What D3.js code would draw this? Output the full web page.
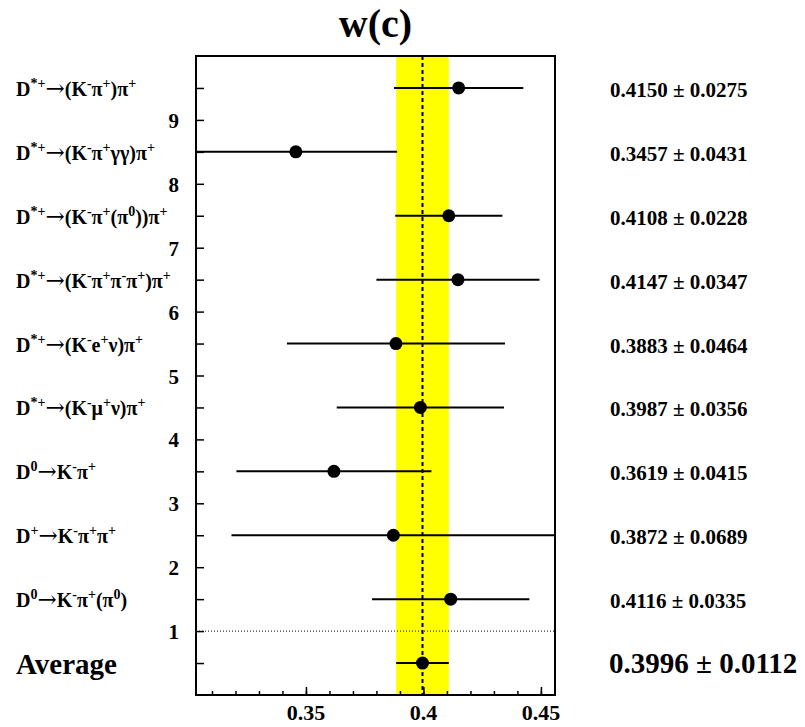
<!DOCTYPE html>
<html>
<head>
<meta charset="utf-8">
<script src="https://cdn.jsdelivr.net/npm/d3@7"></script>
<style>
  html, body { margin: 0; padding: 0; background: #fff; }
</style>
</head>
<body>
<svg id="chart" width="805" height="727"></svg>
<script>
// ---- data ----
const channels = [
  "D^{*+}→(K^{-}π^{+})π^{+}",
  "D^{*+}→(K^{-}π^{+}γγ)π^{+}",
  "D^{*+}→(K^{-}π^{+}(π^{0}))π^{+}",
  "D^{*+}→(K^{-}π^{+}π^{-}π^{+})π^{+}",
  "D^{*+}→(K^{-}e^{+}ν)π^{+}",
  "D^{*+}→(K^{-}μ^{+}ν)π^{+}",
  "D^{0}→K^{-}π^{+}",
  "D^{+}→K^{-}π^{+}π^{+}",
  "D^{0}→K^{-}π^{+}(π^{0})"
];
const rowPositions = [9.5, 8.5, 7.5, 6.5, 5.5, 4.5, 3.5, 2.5, 1.5];
const values = [0.4150, 0.3457, 0.4108, 0.4147, 0.3883, 0.3987, 0.3619, 0.3872, 0.4116];
const errors = [0.0275, 0.0431, 0.0228, 0.0347, 0.0464, 0.0356, 0.0415, 0.0689, 0.0335];
const averageLabel = "Average";
const averagePosition = 0.5;
const averageValue = 0.3996;
const averageError = 0.0112;
const title = "w(c)";
const xTickLabels = [0.35, 0.4, 0.45];
const xMinorTicks = [0.31,0.32,0.33,0.34,0.35,0.36,0.37,0.38,0.39,0.40,0.41,0.42,0.43,0.44,0.45];
const yTickLabels = [1,2,3,4,5,6,7,8,9];
const yMinorTicks = [0.5,1.5,2.5,3.5,4.5,5.5,6.5,7.5,8.5,9.5];
const xDomain = [0.3032, 0.4560];
const yDomain = [0, 10];

// ---- layout ----
const FONT = "Liberation Serif";
const svg = d3.select("#chart");
svg.append("rect").attr("width", 805).attr("height", 727).attr("fill", "#fff");
const L = 196, R = 555, T = 56, B = 695;
const x = d3.scaleLinear().domain(xDomain).range([L, R]);
const y = d3.scaleLinear().domain(yDomain).range([B, T]);

function txt(sel) {
  return sel.attr("font-family", FONT).attr("font-weight", "bold").attr("fill", "#000");
}

svg.append("clipPath").attr("id", "plotclip")
  .append("rect").attr("x", L).attr("y", T).attr("width", R - L).attr("height", B - T);

// yellow band
svg.append("rect")
  .attr("x", x(averageValue - averageError))
  .attr("width", x(averageValue + averageError) - x(averageValue - averageError))
  .attr("y", T).attr("height", B - T)
  .attr("fill", "#ffff00");

// dashed average line
svg.append("line")
  .attr("x1", x(averageValue)).attr("x2", x(averageValue))
  .attr("y1", T).attr("y2", B)
  .attr("stroke", "#000").attr("stroke-width", 2)
  .attr("stroke-dasharray", "4,3");

// dotted separator at y=1
svg.append("line")
  .attr("x1", L).attr("x2", R)
  .attr("y1", y(1)).attr("y2", y(1))
  .attr("stroke", "#000").attr("stroke-width", 1)
  .attr("stroke-dasharray", "1,2");

// points and error bars
const pts = values.map((v, i) => ({v, e: errors[i], p: rowPositions[i]}));
pts.push({v: averageValue, e: averageError, p: averagePosition});
const g = svg.append("g").attr("clip-path", "url(#plotclip)");
g.selectAll("line.err").data(pts).enter().append("line")
  .attr("class", "err")
  .attr("x1", d => x(d.v - d.e)).attr("x2", d => x(d.v + d.e))
  .attr("y1", d => y(d.p)).attr("y2", d => y(d.p))
  .attr("stroke", "#000").attr("stroke-width", 2);
g.selectAll("circle").data(pts).enter().append("circle")
  .attr("cx", d => x(d.v)).attr("cy", d => y(d.p)).attr("r", 6.5)
  .attr("fill", "#000");

// axes
const xAxisMinor = d3.axisTop(x).tickValues(xMinorTicks).tickSize(4).tickFormat("");
const xAxisMajor = d3.axisTop(x).tickValues(xTickLabels).tickSize(8).tickFormat("");
const ax1 = svg.append("g").attr("transform", `translate(0,${B})`).call(xAxisMinor);
const ax2 = svg.append("g").attr("transform", `translate(0,${B})`).call(xAxisMajor);
const yAxis = d3.axisRight(y).tickValues(yTickLabels.concat(yMinorTicks)).tickSize(8).tickFormat("");
const ay = svg.append("g").attr("transform", `translate(${L},0)`).call(yAxis);
[ax1, ax2, ay].forEach(a => {
  a.select(".domain").remove();
  a.selectAll(".tick line").attr("stroke", "#000").attr("stroke-width", 1.5);
});

// x tick labels
txt(svg.selectAll("text.xt").data(xTickLabels).enter().append("text"))
  .attr("class", "xt")
  .attr("x", d => x(d)).attr("y", 720)
  .attr("text-anchor", "middle").attr("font-size", 22)
  .text(d => d3.format("")(d));

// y tick labels
txt(svg.selectAll("text.yt").data(yTickLabels).enter().append("text"))
  .attr("class", "yt")
  .attr("x", 179).attr("y", d => y(d) + 8)
  .attr("text-anchor", "end").attr("font-size", 21)
  .text(d => d);

// frame
svg.append("rect").attr("x", L).attr("y", T).attr("width", R - L).attr("height", B - T)
  .attr("fill", "none").attr("stroke", "#000").attr("stroke-width", 2);

// title
txt(svg.append("text")).attr("x", (L + R) / 2).attr("y", 37)
  .attr("text-anchor", "middle").attr("font-size", 40).text(title);

// channel labels with superscripts
function parseLabel(s) {
  const parts = [];
  const re = /\^\{([^}]*)\}|→/g;
  let last = 0, m;
  while ((m = re.exec(s)) !== null) {
    if (m.index > last) parts.push({t: s.slice(last, m.index), kind: "n"});
    if (m[0] === "→") parts.push({t: "→", kind: "arrow"});
    else parts.push({t: m[1], kind: "sup"});
    last = re.lastIndex;
  }
  if (last < s.length) parts.push({t: s.slice(last), kind: "n"});
  return parts;
}
const SUPRAISE = 8;
channels.forEach((lab, i) => {
  const t = txt(svg.append("text")).attr("x", 16).attr("y", y(rowPositions[i]) + 8)
    .attr("font-size", 20);
  let prevSup = false;
  parseLabel(lab).forEach(p => {
    const ts = t.append("tspan").text(p.t);
    const isSup = p.kind === "sup";
    if (isSup) ts.attr("font-size", 14);
    if (p.kind === "arrow") ts.attr("font-family", "DejaVu Serif").attr("font-weight", "normal").attr("font-size", 23);
    let dy = 0;
    if (isSup && !prevSup) dy = -SUPRAISE;
    if (!isSup && prevSup) dy = SUPRAISE;
    ts.attr("dy", dy);
    prevSup = isSup;
  });
});

// average label
txt(svg.append("text")).attr("x", 16).attr("y", y(averagePosition) + 11)
  .attr("font-size", 29).text(averageLabel);

// value texts
const fmt = d3.format(".4f");
txt(svg.selectAll("text.val").data(values).enter().append("text"))
  .attr("class", "val")
  .attr("x", 610).attr("y", (d, i) => y(rowPositions[i]) + 9)
  .attr("font-size", 21)
  .text((d, i) => `${fmt(d)} ± ${fmt(errors[i])}`);
txt(svg.append("text")).attr("x", 609).attr("y", y(averagePosition) + 10)
  .attr("font-size", 29)
  .text(`${fmt(averageValue)} ± ${fmt(averageError)}`);
</script>
</body>
</html>
